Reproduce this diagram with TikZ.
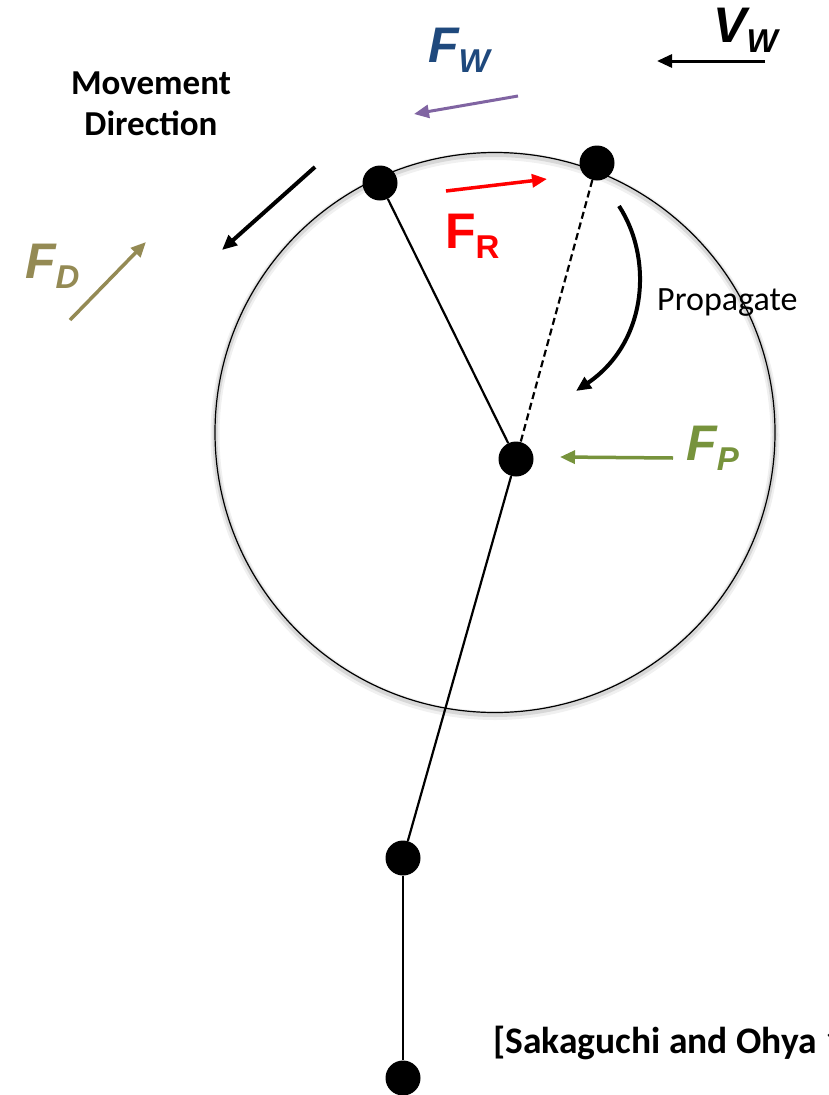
\documentclass[tikz,border=0pt]{standalone}
\usepackage{fontspec}
\setmainfont{Carlito}
\newfontfamily\arialf{Liberation Sans}
\usetikzlibrary{arrows.meta}
\definecolor{fwblue}{RGB}{31,73,125}
\definecolor{fwpurple}{RGB}{128,100,162}
\definecolor{fdolive}{RGB}{148,138,84}
\definecolor{fpgreen}{RGB}{119,147,60}
\definecolor{frred}{RGB}{255,0,0}
\newcommand{\forcelab}[2]{{\fontsize{50}{50}\selectfont #1}\raisebox{-10pt}{\fontsize{33}{33}\selectfont #2}}
\begin{document}
\begin{tikzpicture}[x=1pt,y=-1pt,
  dot/.style={circle,fill=black,minimum size=35pt,inner sep=0pt},
  link/.style={line width=2.2pt,black},
  dashlink/.style={line width=2.2pt,black,dash pattern=on 7pt off 4pt},
  farrow/.style={line width=3.5pt,-{Triangle[length=15pt,width=13pt]}},
  flab/.style={anchor=base west,inner sep=0pt,font=\arialf\bfseries\itshape}]
\useasboundingbox (0,0) rectangle (828,1095);
\fill[white] (0,0) rectangle (828,1095);
% circle with soft shadow
\draw[black,opacity=0.06,line width=9pt] (495,435.5) circle (280);
\draw[black,opacity=0.10,line width=5pt] (495,434.5) circle (280);
\draw[black,line width=1.2pt] (495,432.5) circle (280);
% nodes
\node[dot] (n1) at (380,183) {};
\node[dot] (n2) at (597,163) {};
\node[dot] (c) at (516,459) {};
\node[dot] (n4) at (403,858) {};
\node[dot] (n5) at (403,1078) {};
\draw[link] (n1) -- (c);
\draw[dashlink] (n2) -- (c);
\draw[link] (c) -- (n4);
\draw[link] (n4) -- (n5);
% arrows
\coordinate (mv1) at (315,167); \coordinate (mv2) at (222,250);
\draw[farrow,line width=4pt] (mv1) -- (mv2);
\coordinate (fd1) at (70,320); \coordinate (fd2) at (146,242);
\draw[farrow,fdolive] (fd1) -- (fd2);
\coordinate (fw1) at (518,96); \coordinate (fw2) at (414,114);
\draw[farrow,fwpurple,line width=3pt] (fw1) -- (fw2);
\coordinate (vw1) at (765,61); \coordinate (vw2) at (657,61);
\draw[farrow,line width=3pt] (vw1) -- (vw2);
\coordinate (fr1) at (446,191); \coordinate (fr2) at (547,179);
\draw[farrow,frred] (fr1) -- (fr2);
\coordinate (fp1) at (673,458); \coordinate (fp2) at (560,457);
\draw[farrow,fpgreen] (fp1) -- (fp2);
\coordinate (pr1) at (619,206); \coordinate (pr2) at (576,391);
\draw[farrow,line width=4pt] (pr1) .. controls (653,258) and (648,342) .. (pr2);
% labels
\node[flab,text=fwblue] (lfw) at (428,62) {\forcelab{F}{W}};
\node[flab,text=black] (lvw) at (713,42) {\forcelab{V}{W}};
\node[flab,text=frred,font=\arialf\bfseries] (lfr) at (445,248) {\forcelab{F}{R}};
\node[flab,text=fdolive] (lfd) at (25,278) {\forcelab{F}{D}};
\node[flab,text=fpgreen] (lfp) at (686,460) {\forcelab{F}{P}};
\node[align=center,font=\fontsize{35}{41}\selectfont\bfseries,inner sep=0pt] (mvlab) at (151,104) {Movement\\Direction};
\node[anchor=base west,inner sep=0pt,font=\fontsize{34}{40}\selectfont] (prlab) at (657,310) {Propagate};
\node[anchor=base west,inner sep=0pt,font=\fontsize{37.5}{40}\selectfont\bfseries] (cite) at (493,1053) {[Sakaguchi and Ohya 1};
\end{tikzpicture}
\end{document}
